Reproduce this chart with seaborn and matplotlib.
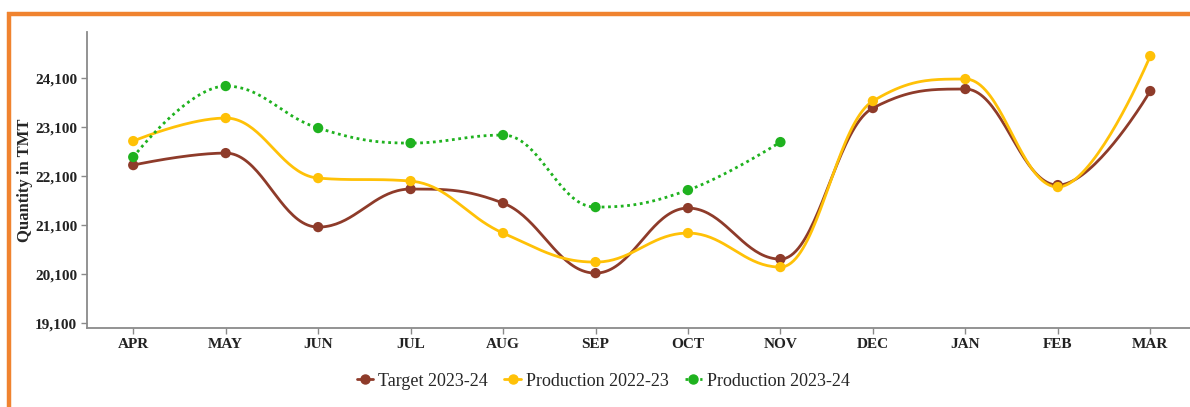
import numpy as np
import pandas as pd
import matplotlib
matplotlib.use("Agg")
import matplotlib.pyplot as plt
from matplotlib.lines import Line2D
import seaborn as sns

months = ["APR", "MAY", "JUN", "JUL", "AUG", "SEP", "OCT", "NOV", "DEC", "JAN", "FEB", "MAR"]
target_2324 = [22324, 22569, 21059, 21835, 21549, 20120, 21447, 20406, 23488, 23876, 21916, 23835]
prod_2223 = [22814, 23284, 22059, 21998, 20937, 20345, 20937, 20243, 23631, 24080, 21876, 24549]
prod_2324 = [22488, 23937, 23080, 22773, 22937, 21467, 21814, 22794]
y_ticks = [19100, 20100, 21100, 22100, 23100, 24100]

series_names = ["Target 2023-24", "Production 2022-23", "Production 2023-24"]
colors = {"Target 2023-24": "#8e3b2a",
          "Production 2022-23": "#ffc107",
          "Production 2023-24": "#1fb21f"}


def smooth(y, n=40, smoothing=1.5):
    """Spline through the points, control points picked the Highcharts way
    (no false extremes between neighbouring points)."""
    y = np.asarray(y, dtype=float)
    x = np.arange(len(y), dtype=float)
    k = len(y)
    lc = [(x[i], y[i]) for i in range(k)]
    rc = [(x[i], y[i]) for i in range(k)]
    d = smoothing + 1
    for i in range(1, k - 1):
        lx = (smoothing * x[i] + x[i - 1]) / d
        ly = (smoothing * y[i] + y[i - 1]) / d
        rx = (smoothing * x[i] + x[i + 1]) / d
        ry = (smoothing * y[i] + y[i + 1]) / d
        corr = (ry - ly) * (rx - x[i]) / (rx - lx) + y[i] - ry
        ly += corr
        ry += corr
        if ly > max(y[i - 1], y[i]):
            ly = max(y[i - 1], y[i])
            ry = 2 * y[i] - ly
        elif ly < min(y[i - 1], y[i]):
            ly = min(y[i - 1], y[i])
            ry = 2 * y[i] - ly
        if ry > max(y[i + 1], y[i]):
            ry = max(y[i + 1], y[i])
            ly = 2 * y[i] - ry
        elif ry < min(y[i + 1], y[i]):
            ry = min(y[i + 1], y[i])
            ly = 2 * y[i] - ry
        lc[i] = (lx, ly)
        rc[i] = (rx, ry)
    xs, ys = [], []
    for i in range(k - 1):
        t = np.linspace(0, 1, n, endpoint=(i == k - 2))
        p0 = (x[i], y[i])
        p1 = rc[i]
        p2 = lc[i + 1]
        p3 = (x[i + 1], y[i + 1])
        b = [(1 - t) ** 3, 3 * (1 - t) ** 2 * t, 3 * (1 - t) * t ** 2, t ** 3]
        xs.append(b[0] * p0[0] + b[1] * p1[0] + b[2] * p2[0] + b[3] * p3[0])
        ys.append(b[0] * p0[1] + b[1] * p1[1] + b[2] * p2[1] + b[3] * p3[1])
    return np.concatenate(xs), np.concatenate(ys)


raw = {"Target 2023-24": target_2324,
       "Production 2022-23": prod_2223,
       "Production 2023-24": prod_2324}

curve_rows, point_rows = [], []
for name in series_names:
    vals = raw[name]
    sx, sy = smooth(vals)
    curve_rows.append(pd.DataFrame({"x": sx, "y": sy, "series": name}))
    point_rows.append(pd.DataFrame({"x": np.arange(len(vals)), "y": vals, "series": name}))
curves = pd.concat(curve_rows, ignore_index=True)
points = pd.concat(point_rows, ignore_index=True)

sns.set_style("white")
plt.rcParams["font.family"] = ["Liberation Serif", "DejaVu Serif"]

fig = plt.figure(figsize=(11.9, 4.07), dpi=100)
ax = fig.add_axes([87 / 1190, 1 - 328 / 407, 1 - 87 / 1190, (328 - 32) / 407])

sns.lineplot(data=curves, x="x", y="y", hue="series", style="series",
             hue_order=series_names, style_order=series_names,
             palette=colors, dashes={"Target 2023-24": "", "Production 2022-23": "",
                                     "Production 2023-24": (1, 1.3)},
             sort=False, estimator=None, linewidth=2.0, legend=False, ax=ax)
sns.scatterplot(data=points, x="x", y="y", hue="series", hue_order=series_names,
                palette=colors, s=55, edgecolor="none", legend=False, ax=ax, zorder=3)

ax.set_xlim(-0.5, 11.43)
ax.set_ylim(19000, 25040)
ax.set_xticks(range(len(months)))
ax.set_xticklabels(months, fontweight="bold", fontsize=11)
ax.set_yticks(y_ticks)
ax.set_yticklabels([f"{v:,}" for v in y_ticks], fontweight="bold", fontsize=11)
ax.set_xlabel("")
ax.set_ylabel("Quantity in TMT", fontweight="bold", fontsize=12)
ax.yaxis.set_label_coords(-0.049, 0.5)

for side in ["top", "right"]:
    ax.spines[side].set_visible(False)
for side in ["left", "bottom"]:
    ax.spines[side].set_color("#8a8a8a")
    ax.spines[side].set_linewidth(1.3)
ax.tick_params(axis="both", which="both", length=4, width=1, color="#8a8a8a",
               direction="out", left=True, bottom=True, pad=3, labelcolor="#222222")

handles = [Line2D([0], [0], color=colors[n], lw=2.0,
                  linestyle=":" if n == "Production 2023-24" else "-",
                  marker="o", markersize=6.5) for n in series_names]
fig.legend(handles, series_names, loc="center", bbox_to_anchor=(0.507, 1 - 381 / 407),
           ncol=3, frameon=False, fontsize=13, handlelength=0.9, handletextpad=0.3,
           columnspacing=0.9)

# orange frame round the card
fig.add_artist(Line2D([7 / 1190, 1], [1 - 13.5 / 407, 1 - 13.5 / 407],
                      transform=fig.transFigure, color="#f0832f", lw=3.2,
                      solid_capstyle="butt"))
fig.add_artist(Line2D([9 / 1190, 9 / 1190], [0, 1 - 11.5 / 407],
                      transform=fig.transFigure, color="#f0832f", lw=3.2,
                      solid_capstyle="butt"))

fig.savefig("out.png", dpi=100)
